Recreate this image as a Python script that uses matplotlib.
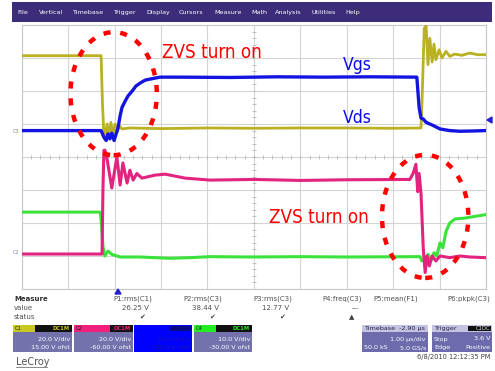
import matplotlib
matplotlib.use("Agg")
import matplotlib.pyplot as plt
from matplotlib.patches import Ellipse, Rectangle, Polygon
import numpy as np

# ---------------- data (time in us from left graticule edge, level in divisions) ----------------
vds_t = [0, 1.71, 1.74, 1.77, 1.79, 1.84, 1.88, 1.92, 1.97, 2.01, 2.05, 2.10, 2.16, 2.33, 3.0, 4.0,
         5.0, 6.0, 7.0, 8.0, 8.60, 8.62, 8.67, 8.71, 8.75, 8.79, 8.84, 8.88, 8.92, 8.99, 9.05, 9.14,
         9.22, 9.33, 9.48, 9.65, 9.82, 9.98]
vds_v = [7.07, 7.07, 5.6, 4.7, 4.55, 5.0, 4.6, 5.05, 4.65, 5.0, 4.75, 4.95, 4.85, 4.88, 4.86, 4.88,
         4.87, 4.88, 4.88, 4.87, 4.88, 5.6, 7.9, 7.97, 6.8, 7.6, 6.88, 7.42, 6.95, 7.25, 7.0, 7.2,
         7.05, 7.12, 7.08, 7.15, 7.1, 7.1]

vgs_t = [0, 1.71, 1.77, 1.82, 1.86, 1.90, 1.94, 1.99, 2.03, 2.07, 2.12, 2.16, 2.23, 2.29, 2.38,
         2.46, 2.55, 2.66, 2.76, 2.98, 3.41, 4.5, 5.5, 6.5, 7.5, 8.51, 8.56, 8.60, 8.65, 8.71,
         8.84, 9.01, 9.22, 9.44, 9.76, 9.98]
vgs_v = [4.80, 4.80, 4.6, 4.5, 4.7, 4.55, 4.72, 4.5, 4.68, 4.85, 5.25, 5.5, 5.7, 5.85, 6.0,
         6.15, 6.24, 6.33, 6.36, 6.42, 6.42, 6.41, 6.43, 6.42, 6.43, 6.42, 5.5, 5.18, 5.15, 5.05,
         4.97, 4.85, 4.80, 4.78, 4.79, 4.80]

c2_t = [0, 1.73, 1.75, 1.77, 1.79, 1.82, 1.94, 2.05, 2.12, 2.18, 2.27, 2.33, 2.40, 2.48, 2.59,
        2.87, 3.09, 3.52, 4.06, 5.0, 6.0, 7.0, 8.36, 8.43, 8.49, 8.53, 8.56, 8.60, 8.65, 8.69,
        8.73, 8.78, 8.84, 8.92, 9.01, 9.22, 9.44, 9.65, 9.98]
c2_v = [1.06, 1.06, 3.0, 4.2, 4.21, 4.1, 3.06, 4.0, 3.15, 3.82, 3.21, 3.6, 3.3, 3.5, 3.36,
        3.45, 3.48, 3.36, 3.3, 3.32, 3.29, 3.31, 3.32, 3.5, 3.78, 2.95, 3.5, 2.9, 1.2, 0.5,
        1.0, 0.7, 1.0, 0.85, 1.0, 0.95, 1.0, 0.97, 0.95]

c4_t = [0, 1.69, 1.71, 1.75, 1.79, 1.86, 1.94, 2.12, 2.55, 3.19, 3.62, 4.06, 4.92, 6.0, 7.0,
        8.58, 8.62, 8.69, 8.75, 8.82, 8.88, 8.94, 9.01, 9.07, 9.14, 9.22, 9.33, 9.55, 9.76, 9.98]
c4_v = [2.33, 2.33, 2.1, 1.3, 1.0, 1.15, 1.05, 0.97, 0.97, 0.93, 0.95, 0.98, 0.97, 0.98, 0.97,
        0.98, 0.85, 0.9, 1.05, 0.88, 1.1, 1.0, 1.4, 1.25, 1.75, 2.0, 2.12, 2.15, 2.2, 2.25]

menu_items = ["File", "Vertical", "Timebase", "Trigger", "Display", "Cursors", "Measure",
              "Math", "Analysis", "Utilities", "Help"]
meas_names = ["P1:rms(C1)", "P2:rms(C3)", "P3:rms(C3)", "P4:freq(C3)", "P5:mean(F1)", "P6:pkpk(C3)"]
meas_values = ["26.25 V", "38.44 V", "12.77 V", "---", "", ""]
meas_status = ["\u2714", "\u2714", "\u2714", "\u25B2", "", ""]
ch_names = ["C1", "C2", "C3", "C4"]
ch_vdiv = ["20.0 V/div", "20.0 V/div", "20.0 V/div", "10.0 V/div"]
ch_ofst = ["15.00 V ofst", "-60.00 V ofst", "-100.0 V ofst", "-30.00 V ofst"]

# ---------------- figure ----------------
W, H = 495, 371
fig = plt.figure(figsize=(W / 100, H / 100), dpi=100)
fig.patch.set_facecolor("white")

def fx(px):
    return px / W

def fy(py):
    return 1 - py / H

def ftext(px, py, s, **kw):
    kw.setdefault("family", "DejaVu Sans")
    fig.text(fx(px), fy(py), s, **kw)

def frect(x0, y0, x1, y1, color, **kw):
    fig.patches.append(Rectangle((fx(x0), fy(y1)), fx(x1) - fx(x0), fy(y0) - fy(y1),
                                 transform=fig.transFigure, facecolor=color,
                                 edgecolor=kw.pop("ec", "none"), lw=kw.pop("lw", 0), **kw))

# menu bar
frect(12, 2, 492, 22, "#3d2c79")
menu_x = [17, 39, 72, 113, 146, 179, 214, 251, 275, 312, 345]
for x, s in zip(menu_x, menu_items):
    ftext(x, 12.5, s, color="white", fontsize=4.6, va="center", ha="left")

# scope graticule
left, right, top, bottom = 21.7, 486, 25, 289
ax = fig.add_axes([fx(left), fy(bottom), fx(right) - fx(left), fy(top) - fy(bottom)])
ax.set_xlim(0, 10)
ax.set_ylim(0, 8)
ax.set_facecolor("white")
for s in ax.spines.values():
    s.set_color("#c8c8c8")
    s.set_linewidth(0.8)
ax.set_xticks(np.arange(0, 11, 1))
ax.set_yticks(np.arange(0, 9, 1))
ax.tick_params(length=0, labelbottom=False, labelleft=False)
ax.grid(True, color="#d4d4d4", lw=0.8)
ax.set_axisbelow(True)
# minor ticks on the centre lines
mx = np.arange(0, 10.01, 0.2)
my = np.arange(0, 8.01, 0.2)
ax.plot(mx, np.full_like(mx, 4), ls="none", marker="|", ms=3, color="#b8b8b8", mew=0.6)
ax.plot(np.full_like(my, 5), my, ls="none", marker="_", ms=3, color="#b8b8b8", mew=0.6)

# traces
ax.plot(vds_t, vds_v, color="#b9b122", lw=2.0, solid_joinstyle="round", zorder=3)
ax.plot(vgs_t, vgs_v, color="#1414e0", lw=2.4, solid_joinstyle="round", zorder=4)
ax.plot(c4_t, c4_v, color="#3be23b", lw=2.2, solid_joinstyle="round", zorder=3)
ax.plot(c2_t, c2_v, color="#e2237f", lw=2.2, solid_joinstyle="round", zorder=4)

# annotations
for (cx, cy) in [(1.98, 5.92), (8.69, 2.20)]:
    ax.add_patch(Ellipse((cx, cy), 1.86, 3.73, fill=False, edgecolor="#ff0000", lw=3.2,
                         linestyle=(0, (1.6, 2.2)), zorder=6, clip_on=False))
nf = dict(family="DejaVu Sans", stretch="condensed")
ax.text(3.02, 7.0, "ZVS turn on", color="#ff0000", fontsize=13.5, va="baseline",
        ha="left", zorder=7, **nf)
ax.text(5.33, 2.0, "ZVS turn on", color="#ff0000", fontsize=13.5, va="baseline",
        ha="left", zorder=7, **nf)
ax.text(6.92, 6.64, "Vgs", color="#0a0aee", fontsize=12.5, va="baseline", ha="left",
        zorder=7, **nf)
ax.text(6.92, 5.03, "Vds", color="#0a0aee", fontsize=12.5, va="baseline", ha="left",
        zorder=7, **nf)

# ground markers & trigger markers
ftext(16, 131, "C3", fontsize=3.5, color="#8080a0", ha="center", va="center")
ftext(16, 252, "C2", fontsize=3.5, color="#8080a0", ha="center", va="center")
fig.patches.append(Polygon([(fx(115), fy(294)), (fx(121), fy(294)), (fx(118), fy(289))],
                           closed=True, transform=fig.transFigure, color="#2020d0"))
fig.patches.append(Polygon([(fx(487), fy(120)), (fx(492), fy(117)), (fx(492), fy(123))],
                           closed=True, transform=fig.transFigure, color="#2020d0"))

# measure table
gray = "#505050"
ftext(14, 299, "Measure", fontsize=5, color="#303030", weight="bold", va="center")
ftext(14, 308, "value", fontsize=5, color=gray, va="center")
ftext(14, 317, "status", fontsize=5, color=gray, va="center")
col_right = [152, 222, 292, 362, 418, 490]
for xr, n, v, st in zip(col_right, meas_names, meas_values, meas_status):
    ftext(xr, 299, n, fontsize=5, color=gray, ha="right", va="center")
    if v:
        ftext(xr - 3, 308, v, fontsize=5, color=gray, ha="right", va="center")
    if st:
        ftext(xr - 10, 317, st, fontsize=5, color="#404040", ha="center", va="center")

# channel boxes
box_x = [(13, 72), (74, 133), (134, 192), (194, 252)]
ch_col = ["#c8c81e", "#f0207e", "#0000ff", "#22ee22"]
for (x0, x1), name, col, vd, of in zip(box_x, ch_names, ch_col, ch_vdiv, ch_ofst):
    if name == "C3":
        frect(x0, 325, x1, 352, col)
        frect(x1 - 22, 326, x1 - 1, 331, "#0a0a80")
        ftext(x1 - 2, 339, vd, fontsize=4.6, color="#1a1aa0", ha="right", va="center")
        ftext(x1 - 2, 347.5, of, fontsize=4.6, color="#1a1aa0", ha="right", va="center")
        continue
    frect(x0, 332, x1, 352, "#7472ad")
    frect(x0, 325, x1, 332, "#111111")
    frect(x0, 325, x0 + 22 if name != "C2" else x0 + 36, 332, col)
    ftext(x0 + 2, 328.5, name, fontsize=3.8, color="#222222", va="center")
    ftext(x1 - 2, 328.5, "DC1M", fontsize=3.8, color=col, ha="right", va="center", weight="bold")
    ftext(x1 - 2, 339, vd, fontsize=4.6, color="white", ha="right", va="center")
    ftext(x1 - 2, 347.5, of, fontsize=4.6, color="white", ha="right", va="center")

# timebase / trigger boxes
frect(362, 325, 428, 352, "#6d6bac")
frect(362, 325, 428, 332, "#c4c3e2")
ftext(364, 328.5, "Timebase  -2.90 \u00b5s", fontsize=4.6, color="#222244", va="center")
ftext(426, 339, "1.00 \u00b5s/div", fontsize=4.6, color="white", ha="right", va="center")
ftext(364, 347.5, "50.0 kS", fontsize=4.6, color="white", va="center")
ftext(426, 347.5, "5.0 GS/s", fontsize=4.6, color="white", ha="right", va="center")

frect(432, 325, 492, 352, "#6d6bac")
frect(432, 325, 492, 332, "#c4c3e2")
frect(468, 326, 491, 331, "#111111")
ftext(434, 328.5, "Trigger", fontsize=4.6, color="#222244", va="center")
ftext(490, 328.5, "C1DC", fontsize=3.8, color="#dddddd", ha="right", va="center")
ftext(434, 339, "Stop", fontsize=4.6, color="white", va="center")
ftext(490, 339, "3.6 V", fontsize=4.6, color="white", ha="right", va="center")
ftext(434, 347.5, "Edge", fontsize=4.6, color="white", va="center")
ftext(490, 347.5, "Positive", fontsize=4.6, color="white", ha="right", va="center")

ftext(490, 357.5, "6/8/2010 12:12:35 PM", fontsize=4.8, color="#404040", ha="right", va="center")
ftext(16, 362, "LeCroy", fontsize=7, color="#555555", va="center")
fig.lines.append(plt.Line2D([fx(16), fx(47)], [fy(367), fy(367)], transform=fig.transFigure,
                            color="#777777", lw=0.6))

fig.savefig("out.png", dpi=100, facecolor="white")
